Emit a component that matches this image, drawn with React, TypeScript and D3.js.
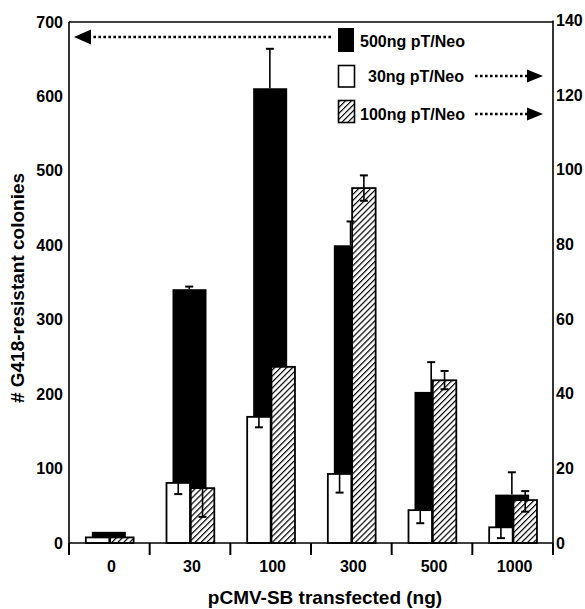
import * as d3 from "d3";

// pCMV-SB amounts (ng)
const categories = ["0", "30", "100", "300", "500", "1000"];

// 500ng pT/Neo -> left axis
const neo500 = [15, 341, 611, 400, 203, 65];
const neo500ErrUp = [0, 3.5, 53, 32, 40, 30];

// 30ng pT/Neo -> right axis
const neo30 = [1.5, 16.1, 33.8, 18.5, 8.8, 4.2];
const neo30ErrDown = [0, 3, 2.8, 5, 3.5, 2.9];

// 100ng pT/Neo -> right axis
const neo100 = [1.5, 14.7, 47.2, 95.1, 43.6, 11.5];
const neo100ErrUp = [0, 0, 0, 3.4, 2.5, 2.4];
const neo100ErrDown = [0, 7.7, 0, 3.4, 2.4, 3.1];

const leftTicks = [0, 100, 200, 300, 400, 500, 600, 700];
const rightTicks = [0, 20, 40, 60, 80, 100, 120, 140];

const font = "'Liberation Sans', Arial, Helvetica, sans-serif";

export default function App() {
  const left = 69, right = 553, top = 22, bottom = 543;

  const x = d3.scaleBand<string>().domain(categories).range([left, right]).padding(0);
  const yL = d3.scaleLinear().domain([0, 700]).range([bottom, top]);
  const yR = d3.scaleLinear().domain([0, 140]).range([bottom, top - 1.5]);

  const cx = (i: number) => (x(categories[i]) as number) + x.bandwidth() / 2;
  const blackW = 34, sideW = 23.5, cap = 4;

  const boundaries = [...categories.map((c) => x(c) as number), right];

  return (
    <svg width={585} height={609} style={{ display: "block" }}>
      <style>{"body{margin:0}"}</style>
      <defs>
        <pattern id="hatch" patternUnits="userSpaceOnUse" width={4.2} height={4.2} patternTransform="rotate(45)">
          <rect width={4.2} height={4.2} fill="#fff" />
          <line x1={0} y1={0} x2={0} y2={4.2} stroke="#000" strokeWidth={2.4} />
        </pattern>
      </defs>

      {/* 500ng bars (behind) */}
      {neo500.map((v, i) => (
        <rect key={"b" + i} x={cx(i) - 0.5 - blackW / 2} y={yL(v)} width={blackW} height={bottom - yL(v)} fill="#000" />
      ))}

      {/* 30ng bars */}
      {neo30.map((v, i) => (
        <rect key={"w" + i} x={cx(i) - sideW} y={yR(v)} width={sideW} height={bottom - yR(v)}
          fill="#fff" stroke="#000" strokeWidth={1.8} />
      ))}

      {/* 100ng bars */}
      {neo100.map((v, i) => (
        <rect key={"h" + i} x={cx(i) + 0.8} y={yR(v)} width={sideW} height={bottom - yR(v)}
          fill="url(#hatch)" stroke="#000" strokeWidth={1.8} />
      ))}

      {/* error bars */}
      <g stroke="#000" strokeWidth={1.6} fill="none">
        {neo30.map((v, i) => neo30ErrDown[i] > 0 && (
          <g key={"ew" + i}>
            <line x1={cx(i) - sideW / 2} x2={cx(i) - sideW / 2} y1={yR(v)} y2={yR(v - neo30ErrDown[i])} />
            <line x1={cx(i) - sideW / 2 - cap} x2={cx(i) - sideW / 2 + cap} y1={yR(v - neo30ErrDown[i])} y2={yR(v - neo30ErrDown[i])} strokeWidth={2} />
          </g>
        ))}
        {neo100.map((v, i) => {
          const hx = cx(i) + 0.8 + sideW / 2;
          const up = neo100ErrUp[i], dn = neo100ErrDown[i];
          return (
            <g key={"eh" + i}>
              {up > 0 && <line x1={hx} x2={hx} y1={yR(v)} y2={yR(v + up)} />}
              {up > 0 && <line x1={hx - cap} x2={hx + cap} y1={yR(v + up)} y2={yR(v + up)} strokeWidth={2} />}
              {dn > 0 && <line x1={hx} x2={hx} y1={yR(v)} y2={yR(v - dn)} />}
              {dn > 0 && <line x1={hx - cap} x2={hx + cap} y1={yR(v - dn)} y2={yR(v - dn)} strokeWidth={2} />}
            </g>
          );
        })}
        {neo500.map((v, i) => neo500ErrUp[i] > 0 && (
          <g key={"eb" + i}>
            <line x1={cx(i) - 0.8} x2={cx(i) - 0.8} y1={yL(v)} y2={yL(v + neo500ErrUp[i])} />
            <line x1={cx(i) - 0.8 - cap} x2={cx(i) - 0.8 + cap} y1={yL(v + neo500ErrUp[i])} y2={yL(v + neo500ErrUp[i])} strokeWidth={2} />
          </g>
        ))}
      </g>

      {/* frame */}
      <g stroke="#000" strokeWidth={1.6} fill="none">
        <line x1={left} x2={left} y1={top} y2={bottom} />
        <line x1={right} x2={right} y1={top - 1.5} y2={bottom} />
        <line x1={left} x2={right} y1={top} y2={top} />
        <line x1={left} x2={right} y1={bottom} y2={bottom} />
        {boundaries.map((b, i) => (
          <line key={"t" + i} x1={b} x2={b} y1={bottom} y2={bottom + 12} strokeWidth={2} />
        ))}
      </g>

      {/* tick labels */}
      <g fontFamily={font} fontWeight="bold" fontSize={16} fill="#000">
        {leftTicks.map((t) => (
          <text key={"l" + t} x={63} y={yL(t)} dy="0.35em" textAnchor="end">{t}</text>
        ))}
        {rightTicks.map((t) => (
          <text key={"r" + t} x={556} y={yR(t)} dy="0.35em" textAnchor="start">{t}</text>
        ))}
        {categories.map((c, i) => (
          <text key={"c" + c} x={cx(i) + 2} y={572} textAnchor="middle">{c}</text>
        ))}
      </g>

      {/* axis titles */}
      <text x={0} y={0} transform="translate(24,288) rotate(-90)" textAnchor="middle"
        fontFamily={font} fontWeight="bold" fontSize={19}># G418-resistant colonies</text>
      <text x={325} y={604} textAnchor="middle" fontFamily={font} fontWeight="bold" fontSize={19}>
        pCMV-SB transfected (ng)
      </text>

      {/* legend */}
      <g fontFamily={font} fontWeight="bold" fontSize={16}>
        <rect x={338} y={28} width={16} height={24} fill="#000" />
        <text x={360} y={47}>500ng pT/Neo</text>
        <rect x={338.5} y={65.5} width={16} height={21.5} fill="#fff" stroke="#000" strokeWidth={1.6} />
        <text x={368} y={82}>30ng pT/Neo</text>
        <rect x={338.5} y={100.5} width={16} height={22} fill="url(#hatch)" stroke="#000" strokeWidth={1.6} />
        <text x={360} y={120}>100ng pT/Neo</text>
      </g>

      {/* arrows */}
      <g stroke="#000" strokeWidth={2.6} strokeDasharray="2.6 2.4" fill="none">
        <line x1={331} x2={90} y1={37} y2={37} />
        <line x1={475} x2={527} y1={76} y2={76} />
        <line x1={475} x2={527} y1={114} y2={114} />
      </g>
      <g fill="#000">
        <path d="M74,37 L91,29.5 L91,44.5 Z" />
        <path d="M543,76 L527,69.5 L527,82.5 Z" />
        <path d="M543,114 L527,107.5 L527,120.5 Z" />
      </g>
    </svg>
  );
}
